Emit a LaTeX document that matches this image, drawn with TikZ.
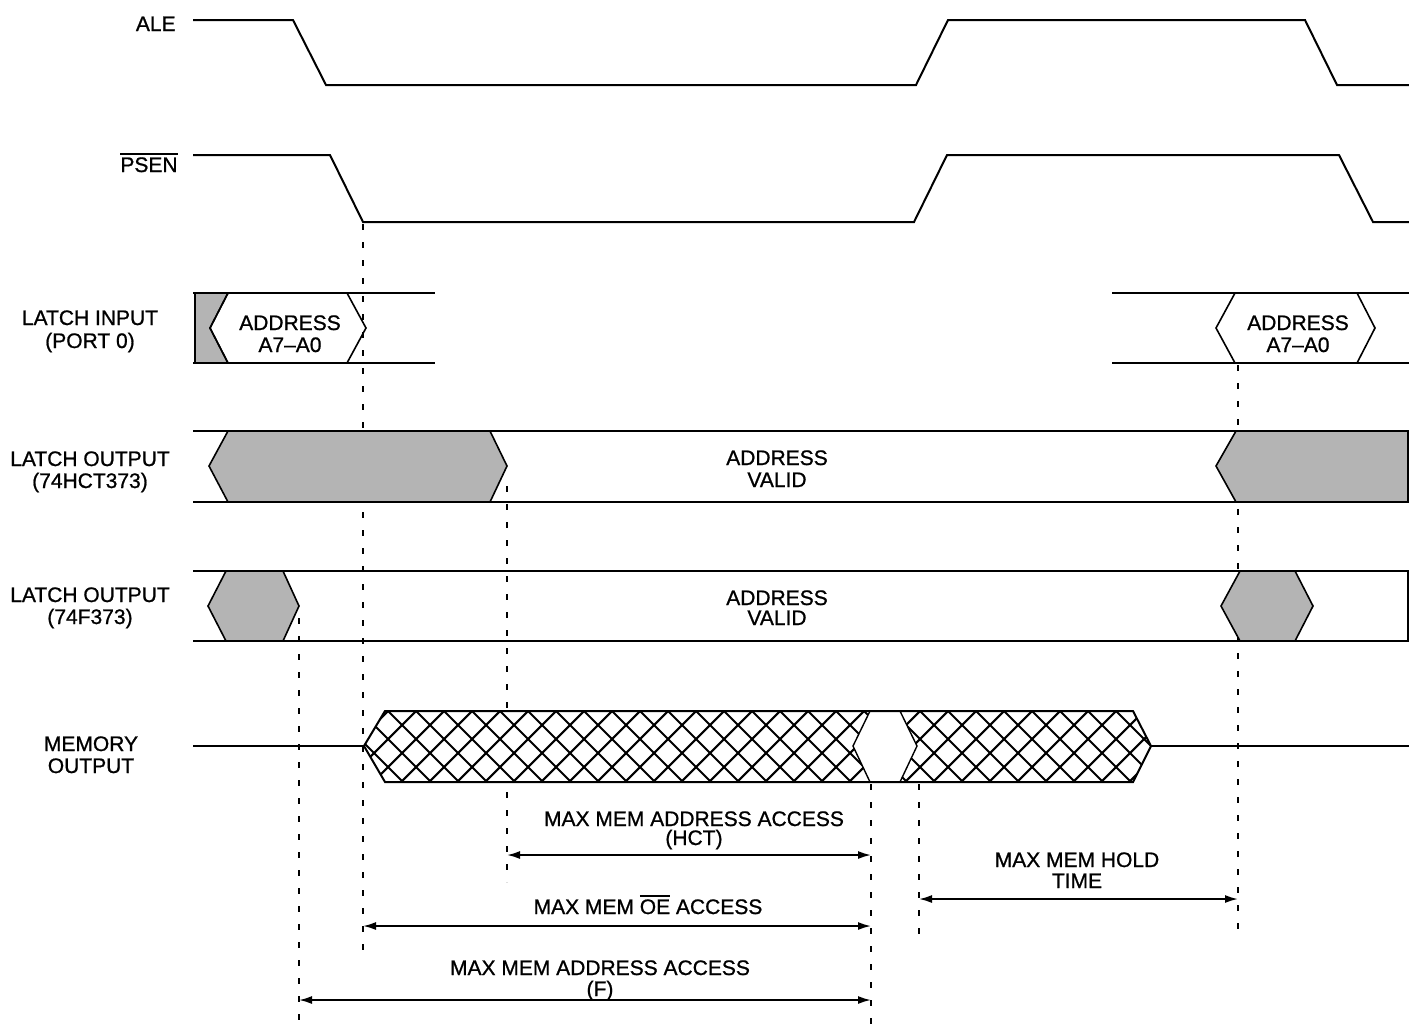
\documentclass[tikz,border=0pt]{standalone}
\usepackage{fontspec}
\setmainfont{Liberation Sans}
\newfontfamily\lblfont[FakeBold=0.9,Ligatures=TeX]{Liberation Sans}
\usetikzlibrary{arrows.meta}
\definecolor{lgray}{RGB}{180,180,180}
\newcommand\ovl[1]{\leavevmode\vbox{\hrule height 0.9pt \kern1.1pt\hbox{#1}}}
\begin{document}
\begin{tikzpicture}[x=0.5pt,y=-0.5pt,
  sig/.style={line width=1pt,line join=miter},
  box/.style={line width=1pt},
  shade/.style={fill=lgray,draw=black,line width=0.8pt},
  hexo/.style={draw=black,line width=0.8pt},
  hexw/.style={fill=white,draw=black,line width=0.8pt},
  guide/.style={line width=1pt,dash pattern=on 3pt off 6pt},
  hatch/.style={line width=1.05pt},
  dim/.style={line width=0.9pt,{Latex[length=6.5pt,width=4pt]}-{Latex[length=6.5pt,width=4pt]}},
  lbl/.style={inner sep=0pt,font=\lblfont\fontsize{10.5}{11}\selectfont}]
\useasboundingbox (0,0) rectangle (1409,1030);

% ---- guide lines (behind everything) ----
\draw[guide] (299,618) -- (299,1030);
\draw[guide] (363,224) -- (363,950);
\draw[guide] (507,486) -- (507,882);
\draw[guide] (871,784) -- (871,1030);
\draw[guide] (919,784) -- (919,935);
\draw[guide] (1238,365) -- (1238,935);

% ---- ALE ----
\node[lbl,anchor=base east] (aleL) at (176,31) {ALE};
\draw[sig] (193,20) -- (293,20) -- (326,85) -- (916,85) -- (948,20) -- (1305,20) -- (1337,85) -- (1409,85);

% ---- PSEN ----
\node[lbl,anchor=base east] (psenL) at (178,172) {\ovl{PSEN}};
\draw[sig] (193,155) -- (330,155) -- (363,222) -- (914,222) -- (947,155) -- (1339,155) -- (1373,222) -- (1409,222);

% ---- LATCH INPUT ----
\node[lbl,anchor=base] (liL1) at (90,325) {LATCH INPUT};
\node[lbl,anchor=base] (liL2) at (90,348) {(PORT 0)};
\draw[box] (193,293) -- (435,293);
\draw[box] (193,363) -- (435,363);
\draw[box] (1112,293) -- (1409,293);
\draw[box] (1112,363) -- (1409,363);
\draw[shade] (195,293) -- (228,293) -- (210,328) -- (228,363) -- (195,363) -- cycle;
\draw[hexo] (210,328) -- (228,293) -- (347,293) -- (366,328) -- (347,363) -- (228,363) -- cycle;
\draw[hexo] (1216,328) -- (1235,293) -- (1357,293) -- (1375,328) -- (1357,363) -- (1235,363) -- cycle;
\node[lbl,anchor=base] (aiA1) at (290,330) {ADDRESS};
\node[lbl,anchor=base] (aiA2) at (290,352) {A7–A0};
\node[lbl,anchor=base] (aiB1) at (1298,330) {ADDRESS};
\node[lbl,anchor=base] (aiB2) at (1298,352) {A7–A0};

% ---- LATCH OUTPUT (74HCT373) ----
\node[lbl,anchor=base] (hcL1) at (90,466) {LATCH OUTPUT};
\node[lbl,anchor=base] (hcL2) at (90,488) {(74HCT373)};
\draw[box] (193,431) -- (1409,431);
\draw[box] (193,502) -- (1409,502);
\draw[shade] (209,466) -- (228,431) -- (490,431) -- (507,466) -- (490,502) -- (228,502) -- cycle;
\draw[shade] (1408,431) -- (1236,431) -- (1216,466) -- (1236,502) -- (1408,502) -- cycle;
\node[lbl,anchor=base] (hcV1) at (777,465) {ADDRESS};
\node[lbl,anchor=base] (hcV2) at (777,487) {VALID};

% ---- LATCH OUTPUT (74F373) ----
\node[lbl,anchor=base] (fL1) at (90,602) {LATCH OUTPUT};
\node[lbl,anchor=base] (fL2) at (90,624) {(74F373)};
\draw[box] (193,571) -- (1408,571) -- (1408,641) -- (193,641);
\draw[shade] (208,606) -- (226,571) -- (283,571) -- (299,606) -- (283,641) -- (226,641) -- cycle;
\draw[shade] (1221,606) -- (1240,571) -- (1295,571) -- (1313,606) -- (1295,641) -- (1240,641) -- cycle;
\node[lbl,anchor=base] (fV1) at (777,605) {ADDRESS};
\node[lbl,anchor=base] (fV2) at (777,625) {VALID};

% ---- MEMORY OUTPUT ----
\node[lbl,anchor=base] (mL1) at (91,751) {MEMORY};
\node[lbl,anchor=base] (mL2) at (91,773) {OUTPUT};
\draw[box] (193,746) -- (364,746);
\draw[box] (1151,746) -- (1409,746);
\begin{scope}
  \clip (364,746) -- (385,711) -- (1133,711) -- (1151,746) -- (1133,782) -- (385,782) -- cycle;
  \fill[white] (360,700) rectangle (1160,790);
  \foreach \k in {-6,...,32} {
    \draw[hatch] ({\k*28-323+700},700) -- ({\k*28-323+800},800);
    \draw[hatch] ({\k*28+1099-700},700) -- ({\k*28+1099-800},800);
  }
\end{scope}
\draw[hexw,line width=0.7pt] (853,746) -- (870,711) -- (900,711) -- (917,746) -- (900,782) -- (870,782) -- cycle;
\draw[box] (364,746) -- (385,711) -- (1133,711) -- (1151,746) -- (1133,782) -- (385,782) -- cycle;

% ---- dimension arrows ----
\coordinate (hctA) at (507,855);
\coordinate (hctB) at (871,855);
\coordinate (oeA) at (363,926);
\coordinate (oeB) at (871,926);
\coordinate (fA) at (299,1000);
\coordinate (fB) at (871,1000);
\coordinate (hA) at (919,899);
\coordinate (hB) at (1238,899);
\draw[dim] (hctA) -- (hctB);
\draw[dim] (oeA) -- (oeB);
\draw[dim] (fA) -- (fB);
\draw[dim] (hA) -- (hB);
\node[lbl,anchor=base] (hctT1) at (694,826) {MAX MEM ADDRESS ACCESS};
\node[lbl,anchor=base] (hctT2) at (694,845) {(HCT)};
\node[lbl,anchor=base] (oeT) at (648,914) {MAX MEM \ovl{OE} ACCESS};
\node[lbl,anchor=base] (fT1) at (600,975) {MAX MEM ADDRESS ACCESS};
\node[lbl,anchor=base] (fT2) at (600,996) {(F)};
\node[lbl,anchor=base] (hT1) at (1077,867) {MAX MEM HOLD};
\node[lbl,anchor=base] (hT2) at (1077,888) {TIME};
\end{tikzpicture}
\end{document}
